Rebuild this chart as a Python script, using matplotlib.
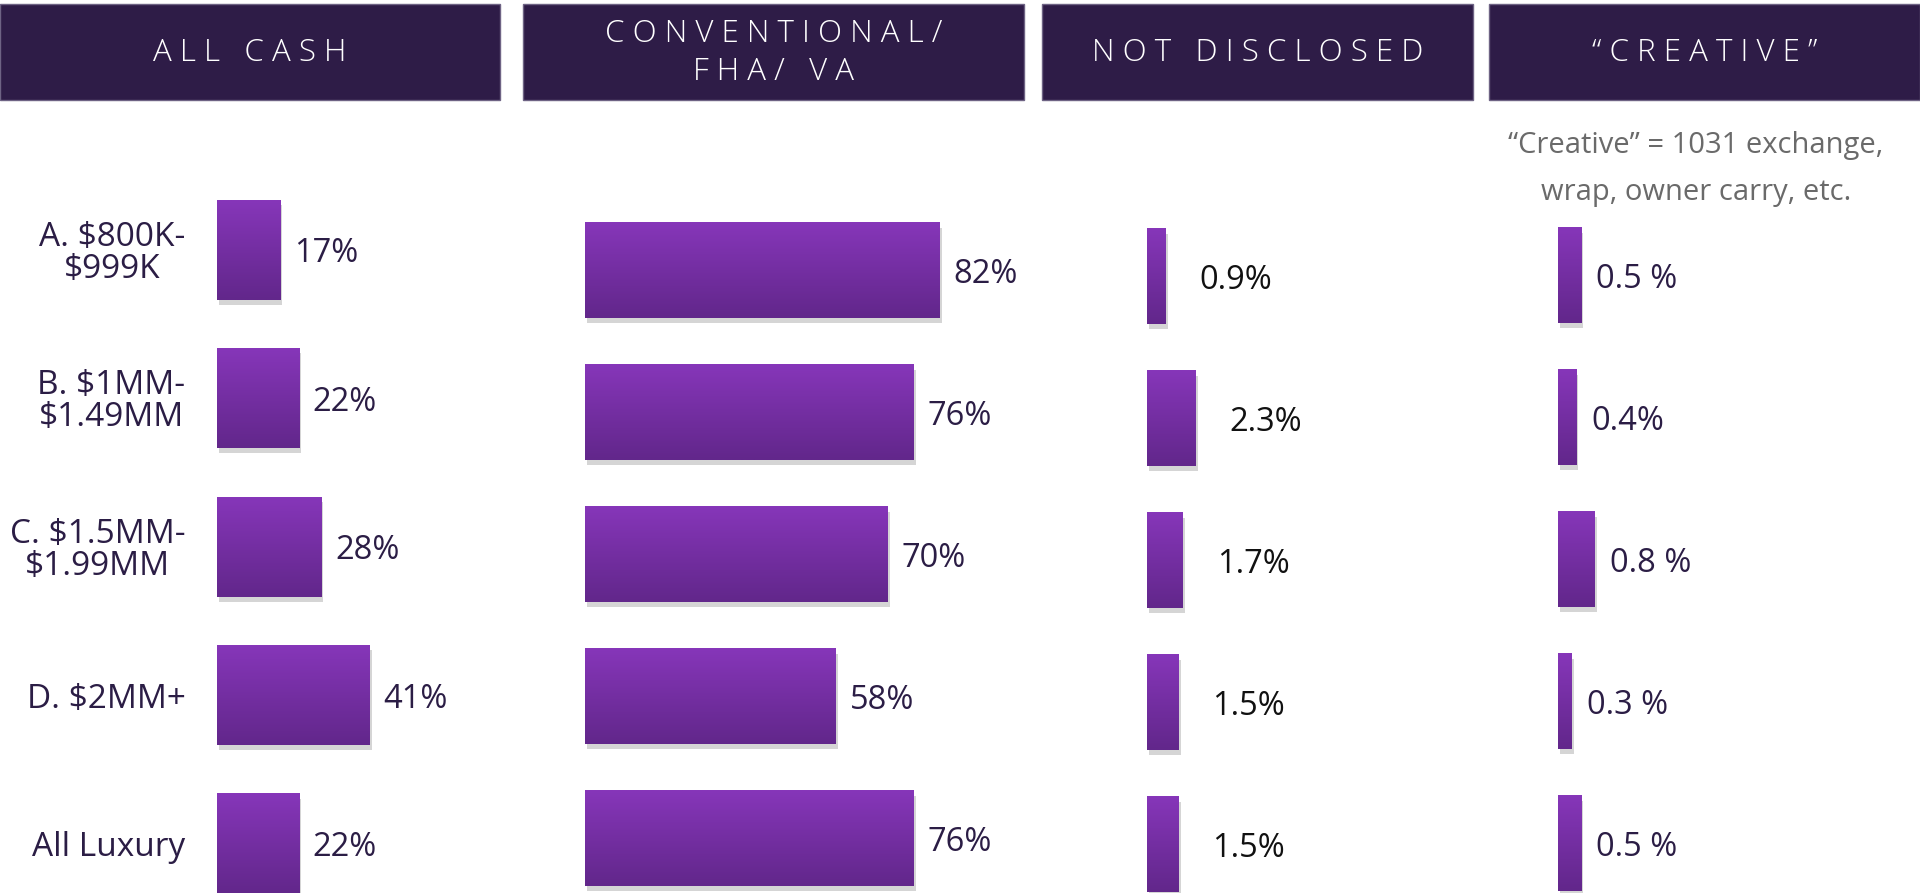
import numpy as np
import matplotlib
matplotlib.use('Agg')
import matplotlib.pyplot as plt
from matplotlib.patches import Rectangle
from matplotlib import patheffects as pe

plt.rcParams['font.family'] = ['Open Sans', 'DejaVu Sans']
plt.rcParams['text.parse_math'] = False

# data
rows = ['A. $800K-\n$999K', 'B. $1MM-\n$1.49MM', 'C. $1.5MM-\n$1.99MM', 'D. $2MM+', 'All Luxury']
headers = ['ALL CASH', 'CONVENTIONAL/\nFHA/ VA', 'NOT DISCLOSED', '\u201cCREATIVE\u201d']
all_cash = [17, 22, 28, 41, 22]
conventional = [82, 76, 70, 58, 76]
not_disclosed = [0.9, 2.3, 1.7, 1.5, 1.5]
creative = [0.5, 0.4, 0.8, 0.3, 0.5]
cash_labels = ['17%', '22%', '28%', '41%', '22%']
conv_labels = ['82%', '76%', '70%', '58%', '76%']
nd_labels = ['0.9%', '2.3%', '1.7%', '1.5%', '1.5%']
creative_labels = ['0.5 %', '0.4%', '0.8 %', '0.3 %', '0.5 %']
note = '\u201cCreative\u201d = 1031 exchange,\nwrap, owner carry, etc.'

W, H = 1920, 893
NAVY = '#2b1d45'
HEAD = '#2e1c47'
TOP = '#8636b9'
BOT = '#62278b'

fig = plt.figure(figsize=(19.2, 8.93), dpi=100)
fig.patch.set_facecolor('white')

# header boxes in pixel coords
bg = fig.add_axes([0, 0, 1, 1])
bg.set_xlim(0, W)
bg.set_ylim(H, 0)
bg.axis('off')

def spaced(s):
    return '\n'.join(' '.join(s_line) for s_line in s.split('\n'))

boxes = [(0, 500), (523, 1024), (1042, 1473), (1489, 1920)]
for (x0, x1), txt in zip(boxes, headers):
    bg.add_patch(Rectangle((x0, 4), x1 - x0, 96, facecolor=HEAD,
                           edgecolor='#6e6384', lw=1))
    bg.text((x0 + x1) / 2, 53, spaced(txt), color='white', fontsize=22.5,
            fontweight='light', ha='center', va='center', linespacing=1.25)

bg.text(1696, 169, note, color='#6a6a6a', fontsize=21, ha='center',
        va='center', linespacing=1.8)

grad = np.linspace(0, 1, 64).reshape(-1, 1)
cmap = matplotlib.colors.LinearSegmentedColormap.from_list('g', [TOP, BOT])

# (values, labels, x0 px, px per unit, first centre px, spacing px, bar height px, width px, pad, label colour)
cols = [
    (all_cash, cash_labels, 216.7, 3.73, 249.8, 148.5, 100, 283, 10, NAVY),
    (conventional, conv_labels, 585.3, 4.32, 270.6, 142, 95.5, 439, 10, NAVY),
    (not_disclosed, nd_labels, 1147.4, 21.1, 276.7, 142, 95.5, 320, 24, '#111111'),
    (creative, creative_labels, 1557.6, 46.1, 275.5, 142, 95.5, 360, 11, NAVY),
]

for k, (vals, labs, x0, sc, c0, sp, bh, wpx, pad, lc) in enumerate(cols):
    top = c0 - sp / 2
    ax = fig.add_axes([x0 / W, 1 - (top + 5 * sp) / H, wpx / W, 5 * sp / H])
    ax.patch.set_alpha(0)
    y = np.arange(len(vals))
    bars = ax.barh(y, vals, height=bh / sp, color=TOP, zorder=2,
                   path_effects=[pe.SimplePatchShadow(offset=(1.5, -3.5), shadow_rgbFace='#888888', alpha=0.35),
                                 pe.Normal()])
    for p in bars:
        bx, by, bw, bhh = p.get_x(), p.get_y(), p.get_width(), p.get_height()
        ax.imshow(grad, cmap=cmap, aspect='auto', origin='upper', zorder=3,
                  extent=(bx, bx + bw, by + bhh, by))
    anns = ax.bar_label(bars, labels=labs, padding=pad, fontsize=23.5, color=lc)
    for a in anns:
        a.xyann = (pad, -3)
    ax.set_xlim(0, wpx / sc)
    ax.set_ylim(len(vals) - 0.5, -0.5)
    ax.set_frame_on(False)
    ax.tick_params(left=False, bottom=False, labelbottom=False)
    if k == 0:
        ax.set_yticks(y, rows)
        ax.tick_params(axis='y', pad=19, labelsize=24, labelcolor=NAVY)
        for t in ax.get_yticklabels():
            t.set_multialignment('center')
            t.set_linespacing(0.95)
    else:
        ax.set_yticks([])

fig.savefig('out.png', dpi=100)
